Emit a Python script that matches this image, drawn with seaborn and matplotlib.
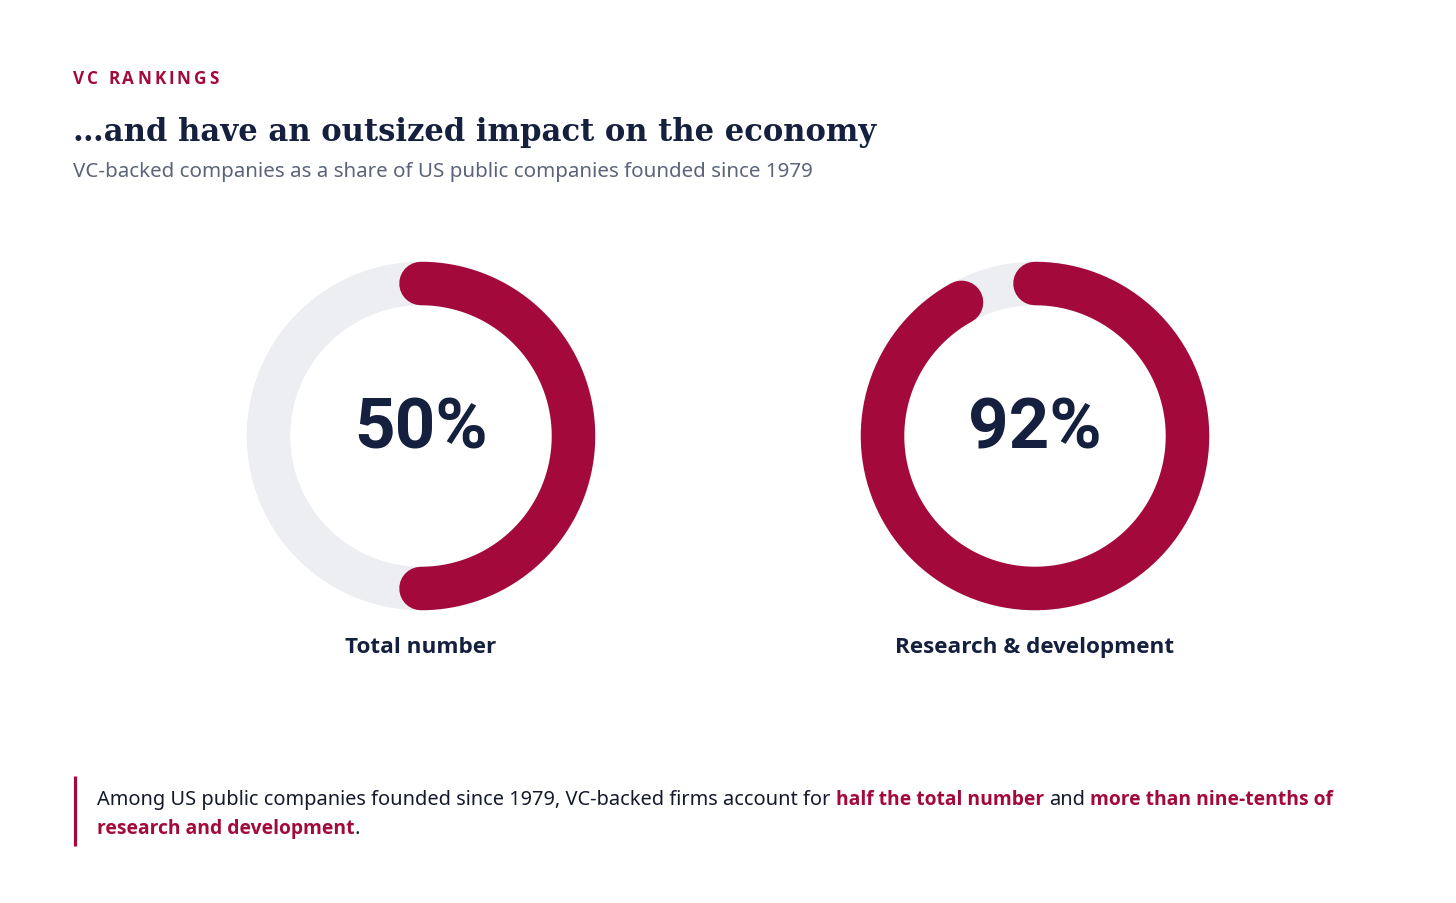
import numpy as np
import pandas as pd
import matplotlib
matplotlib.use("Agg")
import matplotlib.pyplot as plt
import seaborn as sns

# ---- data ----
categories = ["Total number", "Research & development"]
shares = [50, 92]
value_labels = ["50%", "92%"]

kicker = "VC RANKINGS"
title = "…and have an outsized impact on the economy"
subtitle = "VC-backed companies as a share of US public companies founded since 1979"
footer_line1 = [
    ("Among US public companies founded since 1979, VC-backed firms account for", "normal"),
    ("half the total number", "accent"),
    ("and", "normal"),
    ("more than nine-tenths of", "accent"),
]
footer_line2 = [
    ("research and development", "accent"),
    (".", "normal_nospace"),
]

# ---- style ----
RED = "#A3093B"
NAVY = "#15203F"
GREY_RING = "#ECEEF2"
SUB = "#5B6478"
BODY = "#141a2b"
BOLD_FAM = ["Open Sans", "DejaVu Sans"]

W, H = 1456, 904
DPI = 100
sns.set_theme(style="white")
plt.rcParams["font.family"] = ["Noto Sans", "DejaVu Sans"]

fig = plt.figure(figsize=(W / DPI, H / DPI), dpi=DPI)
fig.patch.set_facecolor("white")
ax = fig.add_axes([0, 0, 1, 1])
ax.set_xlim(0, W)
ax.set_ylim(H, 0)
ax.set_aspect("equal")
ax.axis("off")

renderer = fig.canvas.get_renderer()


def px(x, y):
    return x / W, 1 - y / H


def text_width(s, **kw):
    t = fig.text(0, 0, s, **kw)
    w = t.get_window_extent(renderer=renderer).width
    t.remove()
    return w


# ---- donuts ----
centers = [(421, 437), (1035, 437)]
r_mid = 152.5
ring_px = 43.5
lw = ring_px * 72 / DPI

for (cx, cy), share, cat, lab in zip(centers, shares, categories, value_labels):
    th = np.linspace(0, 2 * np.pi, 400)
    ring = pd.DataFrame({"x": cx + r_mid * np.sin(th), "y": cy - r_mid * np.cos(th)})
    sns.lineplot(data=ring, x="x", y="y", sort=False, estimator=None, ax=ax,
                 color=GREY_RING, linewidth=lw, legend=False)
    th2 = np.linspace(0, 2 * np.pi * share / 100, 400)
    arc = pd.DataFrame({"x": cx + r_mid * np.sin(th2), "y": cy - r_mid * np.cos(th2)})
    sns.lineplot(data=arc, x="x", y="y", sort=False, estimator=None, ax=ax,
                 color=RED, linewidth=lw, legend=False, solid_capstyle="round")
    fig.text(*px(cx, 449), lab, ha="center", va="baseline", fontsize=51,
             fontweight="bold", family=["Roboto", "DejaVu Sans"], color=NAVY)
    fig.text(*px(cx, 653), cat, ha="center", va="baseline", fontsize=16.2,
             fontweight="bold", family=BOLD_FAM, color=NAVY)
ax.set_xlim(0, W)
ax.set_ylim(H, 0)
ax.set_xlabel("")
ax.set_ylabel("")

# ---- header ----
# letter-spaced kicker
kx = 73
kkw = dict(fontsize=12.3, fontweight="bold", family=BOLD_FAM, color=RED)
for ch in kicker:
    if ch == " ":
        kx += text_width("a a", **kkw) - text_width("aa", **kkw) + 2.9
        continue
    fig.text(*px(kx, 84), ch, ha="left", va="baseline", **kkw)
    kx += text_width(ch, **kkw) + 2.9

fig.text(*px(73, 141), title, ha="left", va="baseline", fontsize=22.1,
         fontweight="bold", family=["DejaVu Serif"], color=NAVY)
fig.text(*px(73, 177), subtitle, ha="left", va="baseline", fontsize=14.8,
         color=SUB)

# ---- footer ----
ax.plot([74.5, 74.5], [777, 847], color=RED, linewidth=3.2 * 72 / DPI,
        solid_capstyle="butt")

fkw = dict(fontsize=14.4)


def draw_runs(x, y, parts):
    for i, (s, kind) in enumerate(parts):
        bold = kind == "accent"
        kw = dict(fkw, fontweight="bold" if bold else "normal",
                  color=RED if bold else BODY)
        if bold:
            kw["family"] = BOLD_FAM
            kw["fontsize"] = 13.9
        if i > 0 and kind != "normal_nospace":
            x += text_width("a a", **dict(fkw)) - text_width("aa", **dict(fkw))
        fig.text(*px(x, y), s, ha="left", va="baseline", **kw)
        x += text_width(s, **kw)


draw_runs(97, 805, footer_line1)
draw_runs(97, 834, footer_line2)

fig.savefig("out.png", dpi=DPI, facecolor="white")
